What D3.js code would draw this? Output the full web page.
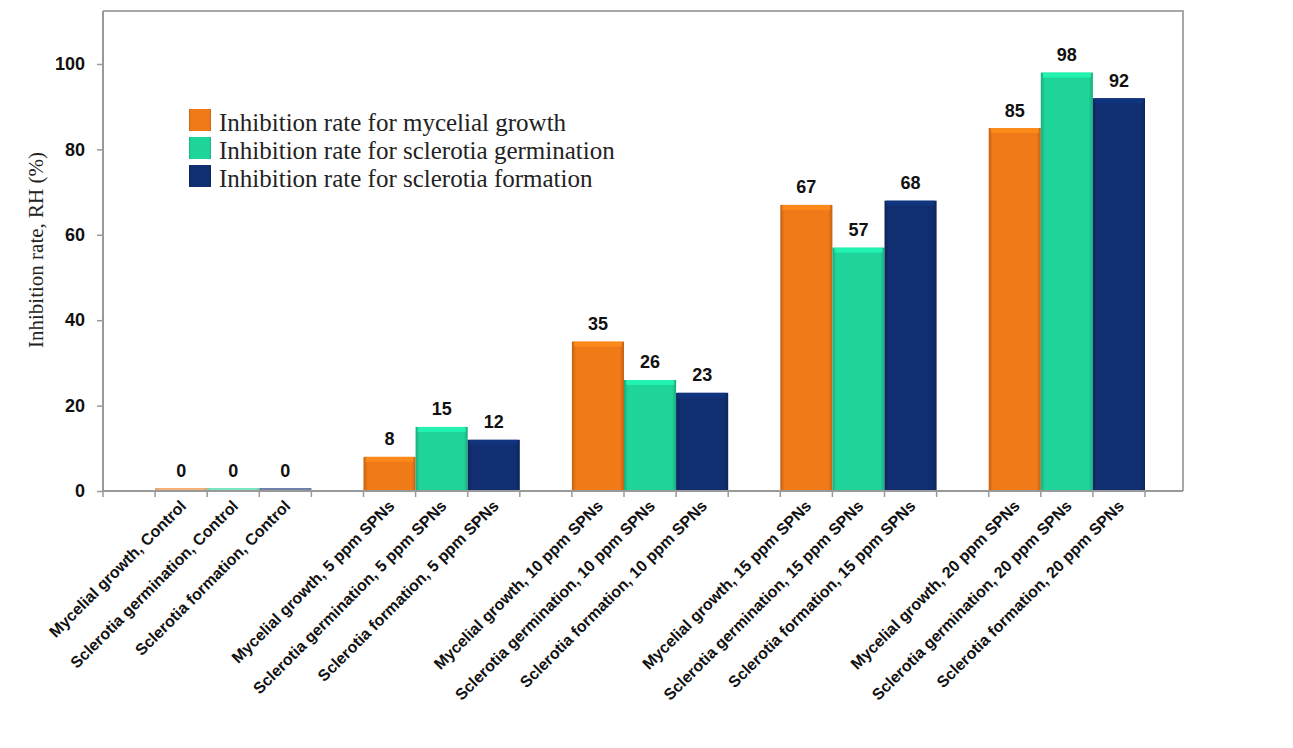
<!DOCTYPE html>
<html>
<head>
<meta charset="utf-8">
<script src="https://cdn.jsdelivr.net/npm/d3@7"></script>
<style>
  html,body{margin:0;padding:0;background:#fff;}
  svg{display:block;}
  .tick-lbl{font-family:"Liberation Sans",Arial,sans-serif;font-weight:bold;font-size:18px;fill:#111;}
  .val{font-family:"Liberation Sans",Arial,sans-serif;font-weight:bold;font-size:18px;fill:#111;text-anchor:middle;}
  .xlbl{font-family:"Liberation Sans",Arial,sans-serif;font-weight:bold;font-size:16px;fill:#111;text-anchor:end;}
  .serif{font-family:"Liberation Serif","Times New Roman",serif;fill:#222;}
</style>
</head>
<body>
<svg id="chart" width="1293" height="748"></svg>
<script>
// ── DATA ────────────────────────────────────────────────────────────────
var groups=["Control","5 ppm SPNs","10 ppm SPNs","15 ppm SPNs","20 ppm SPNs"];
var seriesNames=["Inhibition rate for mycelial growth","Inhibition rate for sclerotia germination","Inhibition rate for sclerotia formation"];
var seriesShort=["Mycelial growth","Sclerotia germination","Sclerotia formation"];
var mycelial=[0,8,35,67,85];
var germination=[0,15,26,57,98];
var formation=[0,12,23,68,92];
var yTicks=[0,20,40,60,80,100];
var seriesColors=["#f07a18","#1fd59c","#102e70"];

var values=[mycelial,germination,formation];

// ── LAYOUT ──────────────────────────────────────────────────────────────
var plotL=103,plotR=1183,plotT=11,plotB=491,slot=52.1;

var svg=d3.select("#chart");
var defs=svg.append("defs");

// bevel-ish gradient per series (darker edges, lighter middle)
seriesColors.forEach(function(c,i){
  var g=defs.append("linearGradient").attr("id","grad"+i).attr("x1","0").attr("x2","1").attr("y1","0").attr("y2","0");
  var col=d3.color(c);
  g.append("stop").attr("offset","0%").attr("stop-color",col.darker(0.6));
  g.append("stop").attr("offset","8%").attr("stop-color",c);
  g.append("stop").attr("offset","92%").attr("stop-color",c);
  g.append("stop").attr("offset","100%").attr("stop-color",col.darker(0.6));
});

var y=d3.scaleLinear().domain([0,100]).range([plotB,64]);
var x0=d3.scaleBand().domain(groups).range([plotL,plotL+21*slot]).paddingInner(0.25).paddingOuter(0.25);
var x1=d3.scaleBand().domain(d3.range(seriesNames.length)).range([0,x0.bandwidth()]);

// frame (top + right)
svg.append("path")
  .attr("d","M"+plotL+","+plotT+"H"+plotR+"V"+plotB)
  .attr("fill","none").attr("stroke","#a8a8a8").attr("stroke-width",2);

// bars
var rows=[];
groups.forEach(function(g,gi){
  values.forEach(function(arr,si){rows.push({g:g,si:si,v:arr[gi]});});
});

var bars=svg.append("g");
rows.forEach(function(d){
  var bx=x0(d.g)+x1(d.si),bw=x1.bandwidth();
  var by=Math.min(y(d.v),plotB-3),bh=plotB-by;
  bars.append("rect").attr("x",bx).attr("y",by).attr("width",bw).attr("height",bh)
    .attr("fill","url(#grad"+d.si+")").attr("opacity",d.v===0?0.6:1);
  // top highlight
  if(bh>8){
    bars.append("rect").attr("x",bx+2).attr("y",by).attr("width",bw-4).attr("height",5)
      .attr("fill",d3.color(seriesColors[d.si]).brighter(0.5)).attr("opacity",0.7);
  }
  svg.append("text").attr("class","val")
    .attr("x",bx+bw/2).attr("y",by-11.5).text(d.v);
});

// y axis
var yAxis=svg.append("g").attr("transform","translate("+plotL+",0)")
  .call(d3.axisLeft(y).tickValues(yTicks).tickSize(6).tickPadding(12));
yAxis.select(".domain").attr("d","M0,"+plotT+"V"+plotB).attr("stroke","#999").attr("stroke-width",2);
yAxis.selectAll(".tick line").attr("stroke","#999").attr("stroke-width",1.5);
yAxis.selectAll(".tick text").attr("class","tick-lbl").attr("font-size",null).attr("font-family",null);

// x axis line + ticks at slot boundaries
svg.append("line").attr("x1",plotL).attr("x2",plotR).attr("y1",plotB).attr("y2",plotB)
  .attr("stroke","#999").attr("stroke-width",2);
var tickXs=[plotL];
groups.forEach(function(g){
  for(var k=0;k<=seriesNames.length;k++)tickXs.push(x0(g)+k*x1.step());
});
svg.append("g").selectAll("line").data(tickXs).enter().append("line")
  .attr("x1",function(d){return d;}).attr("x2",function(d){return d;})
  .attr("y1",plotB).attr("y2",plotB+6).attr("stroke","#999").attr("stroke-width",1.5);

// x labels (rotated)
rows.forEach(function(d){
  var cx=x0(d.g)+x1(d.si)+x1.bandwidth()/2+6;
  svg.append("text").attr("class","xlbl")
    .attr("transform","translate("+cx+","+(plotB+16)+") rotate(-45)")
    .text(seriesShort[d.si]+", "+d.g);
});

// y title
svg.append("text").attr("class","serif")
  .attr("transform","translate(43,250) rotate(-90)")
  .attr("text-anchor","middle").attr("font-size",21)
  .text("Inhibition rate, RH (%)");

// legend
var leg=svg.append("g");
seriesNames.forEach(function(n,i){
  var by=131+i*28;
  leg.append("rect").attr("x",189).attr("y",by-22).attr("width",22).attr("height",22)
    .attr("fill","url(#grad"+i+")");
  leg.append("text").attr("class","serif").attr("x",219).attr("y",by)
    .attr("font-size",25).text(n);
});
</script>
</body>
</html>
